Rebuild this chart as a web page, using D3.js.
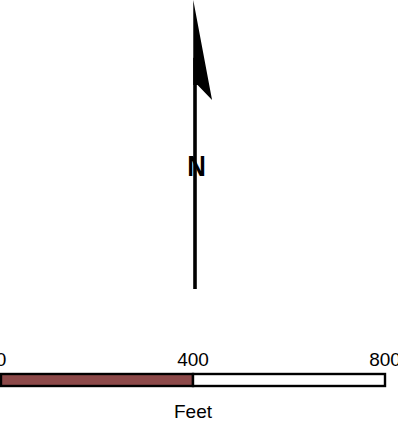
<!DOCTYPE html>
<html lang="en">
<head>
    <meta charset="UTF-8">
    <title>north-arrow-scale</title>
    <style>
        body { margin: 0; background: #fff; }
        text { font-family: "Liberation Sans", Arial, sans-serif; }
    </style>
    <script src="https://d3js.org/d3.v7.min.js"></script>
</head>
<body>
<script>

    // scale bar data
    let ticks = [0, 400, 800];
    let segments = [
        { from: 0, to: 400, fill: "#8c4949" },
        { from: 400, to: 800, fill: "#ffffff" }
    ];
    let unitLabel = "Feet";

    // north arrow shape, in arrow units (0 = tip, 100 = tail)
    let shaftLength = [20, 100];
    let flag = [[-0.6, 0], [5.9, 34.6], [0.9, 29.4], [-0.6, 29.4]];
    let northLabel = "N";

    let width = 398;
    let height = 423;

    let svg = d3.select("body").append("svg")
        .attr("width", width)
        .attr("height", height);

    // north arrow
    let ay = d3.scaleLinear().domain([0, 100]).range([0, 289]);
    let ax = d3.scaleLinear().domain([0, 100]).range([195, 484]);

    let arrow = svg.append("g");

    arrow.append("line")
        .attr("x1", ax(0)).attr("x2", ax(0))
        .attr("y1", ay(shaftLength[0])).attr("y2", ay(shaftLength[1]))
        .attr("stroke", "#000")
        .attr("stroke-width", 3.6);

    arrow.append("path")
        .attr("d", d3.line().x(d => ax(d[0])).y(d => ay(d[1])).curve(d3.curveLinearClosed)(flag))
        .attr("fill", "#000");

    arrow.append("text")
        .attr("transform", "translate(" + (ax(0) + 1.5) + "," + 176 + ") scale(0.86,1)")
        .attr("text-anchor", "middle")
        .attr("font-size", 30)
        .attr("font-weight", "bold")
        .text(northLabel);

    // scale bar
    let x = d3.scaleLinear().domain([0, 800]).range([1, 385]);
    let barY = 374, barH = 12;

    let bar = svg.append("g");

    bar.selectAll("rect")
        .data(segments)
        .enter()
        .append("rect")
        .attr("x", d => x(d.from))
        .attr("y", barY)
        .attr("width", d => x(d.to) - x(d.from))
        .attr("height", barH)
        .attr("fill", d => d.fill)
        .attr("stroke", "#000")
        .attr("stroke-width", 2.4);

    bar.selectAll("text.tick")
        .data(ticks)
        .enter()
        .append("text")
        .attr("class", "tick")
        .attr("x", d => x(d))
        .attr("y", 366)
        .attr("text-anchor", "middle")
        .attr("font-size", 19)
        .attr("fill", "#000")
        .text(d => d);

    bar.append("text")
        .attr("x", x(400))
        .attr("y", 418)
        .attr("text-anchor", "middle")
        .attr("font-size", 19)
        .attr("fill", "#000")
        .text(unitLabel);

</script>
</body>
</html>
